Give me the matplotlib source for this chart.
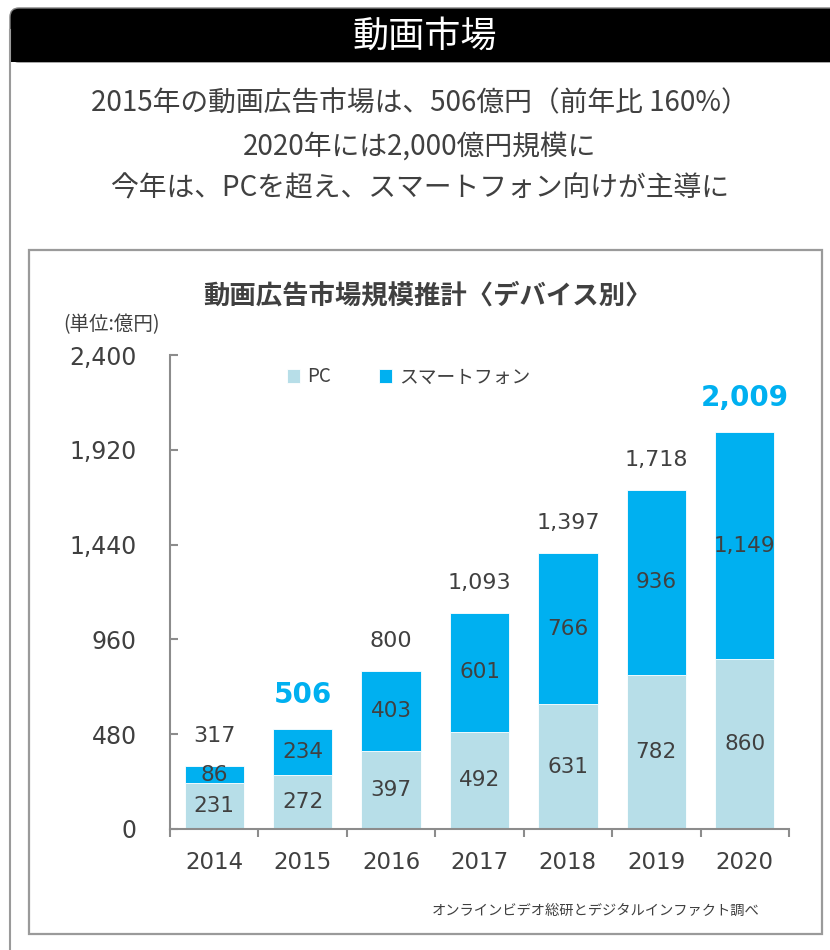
import matplotlib
matplotlib.use("Agg")
import matplotlib.pyplot as plt
from matplotlib.patches import Rectangle, FancyBboxPatch
import numpy as np

plt.rcParams['font.family'] = ['Noto Sans CJK JP', 'DejaVu Sans']

# data
years = ['2014', '2015', '2016', '2017', '2018', '2019', '2020']
pc = [231, 272, 397, 492, 631, 782, 860]
smartphone = [86, 234, 403, 601, 766, 936, 1149]
totals = [317, 506, 800, 1093, 1397, 1718, 2009]
highlight = ['2015', '2020']
yticks = [0, 480, 960, 1440, 1920, 2400]

header = "動画市場"
lines = ["2015年の動画広告市場は、506億円（前年比 160%）",
         "2020年には2,000億円規模に",
         "今年は、PCを超え、スマートフォン向けが主導に"]
chart_title = "動画広告市場規模推計〈デバイス別〉"
unit = "(単位:億円)"
source = "オンラインビデオ総研とデジタルインファクト調べ"

PC_COL = '#B7DEE8'
SP_COL = '#00B0F0'
TXT = '#404040'
AX_COL = '#8c8c8c'
NUM = 'DejaVu Sans'

W, H = 830, 950
fig = plt.figure(figsize=(W / 100, H / 100), dpi=100)

# background layer in pixel coordinates
bg = fig.add_axes([0, 0, 1, 1])
bg.set_xlim(0, W)
bg.set_ylim(H, 0)
bg.axis('off')

# black header with rounded top-left corner
bg.add_patch(FancyBboxPatch((10, 8), 840, 54, boxstyle="round,pad=0,rounding_size=9",
                            fc='black', ec='#808080', lw=1))
bg.add_patch(Rectangle((10, 35), 840, 27, fc='black', ec='none'))
bg.plot([10, 10], [30, H], color='#9a9a9a', lw=1.5)
bg.text(425, 37, header, color='white', fontsize=26, ha='center', va='center')

for y, s in zip([103, 147, 188], lines):
    bg.text(420, y, s, color=TXT, fontsize=20, ha='center', va='center')

# chart frame
bg.add_patch(Rectangle((29, 250), 793, 684, fc='white', ec='#9a9a9a', lw=1.6))
bg.text(427, 296, chart_title, color=TXT, fontsize=19, fontweight='bold',
        ha='center', va='center')
bg.text(111, 325, unit, color=TXT, fontsize=14, ha='center', va='center')
bg.text(760, 911, source, color=TXT, fontsize=10.3, ha='right', va='center')

# main chart
x0, x1, ytop, ybot = 170, 789, 355, 829
ax = fig.add_axes([x0 / W, (H - ybot) / H, (x1 - x0) / W, (ybot - ytop) / H])
ax.patch.set_alpha(0)
x = np.arange(len(years))
bw = 0.67
ax.bar(x, pc, bw, color=PC_COL, edgecolor='white', lw=0.6, label='PC')
ax.bar(x, smartphone, bw, bottom=pc, color=SP_COL, edgecolor='white', lw=0.6,
       label='スマートフォン')

for i in range(len(years)):
    ax.text(x[i], pc[i] / 2, f"{pc[i]:,}", ha='center', va='center', fontsize=15.5,
            color=TXT, family=NUM)
    ax.text(x[i], pc[i] + smartphone[i] / 2, f"{smartphone[i]:,}", ha='center',
            va='center', fontsize=15.5, color=TXT, family=NUM)
    if years[i] in highlight:
        ax.annotate(f"{totals[i]:,}", (x[i], totals[i]), xytext=(0, 34),
                    textcoords='offset pixels', ha='center', va='center',
                    fontsize=20, fontweight='bold', color=SP_COL, family=NUM)
    else:
        ax.annotate(f"{totals[i]:,}", (x[i], totals[i]), xytext=(0, 30),
                    textcoords='offset pixels', ha='center', va='center',
                    fontsize=16, color=TXT, family=NUM)

ax.set_xlim(-0.5, len(years) - 0.5)
ax.set_ylim(0, 2400)
ax.set_yticks(yticks)
ax.set_yticklabels([f"{v:,}" for v in yticks], family=NUM)
ax.set_xticks(x)
ax.set_xticklabels(years, family=NUM)
ax.set_xticks(np.arange(-0.5, len(years)), minor=True)
ax.tick_params(axis='y', direction='in', length=6, width=1.5, color=AX_COL,
               labelsize=17, labelcolor=TXT, pad=24)
ax.tick_params(axis='x', which='major', length=0, labelsize=16.5, labelcolor=TXT, pad=16)
ax.tick_params(axis='x', which='minor', direction='out', length=6, width=1.5, color=AX_COL)
for s in ['top', 'right']:
    ax.spines[s].set_visible(False)
for s in ['left', 'bottom']:
    ax.spines[s].set_color(AX_COL)
    ax.spines[s].set_linewidth(1.5)

ax.legend(loc='center left', bbox_to_anchor=(287, 377), bbox_transform=bg.transData,
          ncol=2, frameon=False, borderpad=0, borderaxespad=0,
          fontsize=13.5, handlelength=0.7, handleheight=0.7, handletextpad=0.35,
          columnspacing=2.6, labelcolor=TXT)

fig.savefig('out.png', dpi=100)
